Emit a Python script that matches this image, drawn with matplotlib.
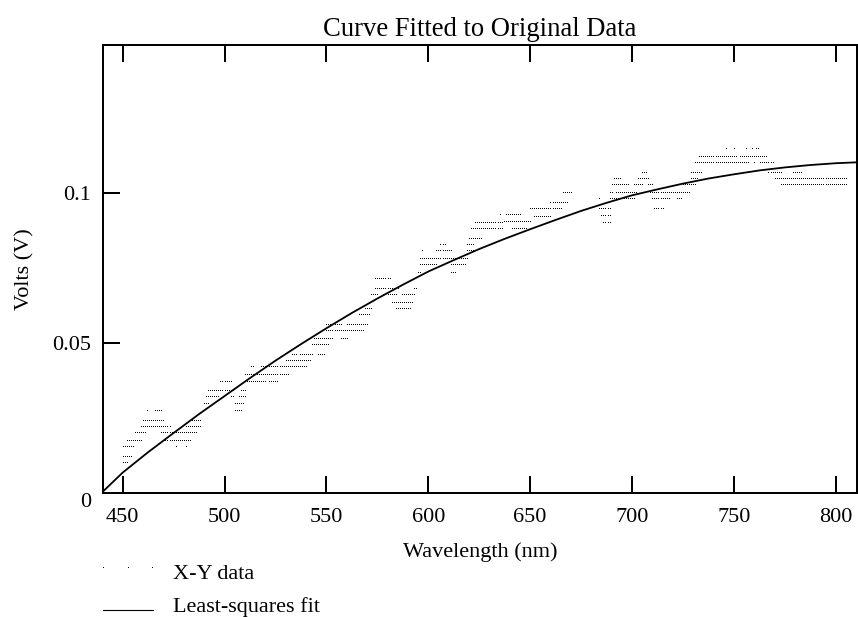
import matplotlib
matplotlib.use('Agg')
import matplotlib.pyplot as plt
import numpy as np
from matplotlib.lines import Line2D

# ---------------- data ----------------
# measured points: horizontal runs of samples at 1 nm spacing (level, first nm, last nm)
run_y = [
    0.0100, 0.0121, 0.0153, 0.0154, 0.0154, 0.0174, 0.0174, 0.0200, 0.0200,
    0.0220, 0.0220, 0.0220, 0.0241, 0.0241, 0.0274, 0.0274, 0.0274,
    0.0296, 0.0296, 0.0320, 0.0320, 0.0320, 0.0340, 0.0340,
    0.0372, 0.0372, 0.0372, 0.0394, 0.0421, 0.0421, 0.0441,
    0.0461, 0.0461, 0.0461, 0.0494, 0.0514, 0.0514, 0.0541, 0.0560, 0.0560,
    0.0594, 0.0614, 0.0614, 0.0633, 0.0661, 0.0661, 0.0661, 0.0681, 0.0681,
    0.0713, 0.0733, 0.0733, 0.0761, 0.0761, 0.0780, 0.0808, 0.0808, 0.0808,
    0.0828, 0.0828, 0.0848, 0.0880, 0.0900, 0.0928,
    # 636-684 region
    0.0928, 0.0905, 0.0880, 0.0947, 0.0967, 0.0920, 0.1000,
    # right part
    0.1147, 0.1147, 0.1147, 0.1147, 0.1147,
    0.1122, 0.1122, 0.1100, 0.1100, 0.1100,
    0.1067, 0.1067, 0.1067, 0.1067,
    0.1047, 0.1047, 0.1047, 0.1047,
    0.1027, 0.1027, 0.1027, 0.1027, 0.1027, 0.1027,
    0.1000, 0.1000, 0.1000,
    0.0980, 0.0980, 0.0980, 0.0980,
    0.0947, 0.0947, 0.0925, 0.0900,
]
run_x0 = [
    450, 450, 450, 476, 481, 452, 470, 456, 469,
    459, 470, 481, 460, 484, 462, 466, 505,
    490, 505, 491, 503, 507, 492, 508,
    498, 511, 522, 510, 513, 518, 530,
    533, 537, 546, 543, 544, 557, 550, 550, 560,
    566, 569, 584, 582, 572, 578, 587, 574, 593,
    574, 595, 611, 596, 611, 596, 597, 604, 619,
    606, 619, 620, 621, 623, 635,
    638, 637, 641, 650, 660, 652, 666,
    746, 750, 756, 759, 761,
    733, 753, 731, 760, 763,
    705, 729, 767, 779,
    691, 703, 729, 770,
    690, 701, 708, 725, 773, 782,
    689, 692, 709,
    684, 689, 710, 722,
    684, 711, 685, 686,
]
run_x1 = [
    452, 454, 455, 476, 481, 459, 483, 461, 486,
    469, 473, 488, 470, 488, 462, 469, 508,
    492, 509, 497, 504, 510, 504, 510,
    503, 520, 526, 531, 514, 540, 542,
    535, 543, 549, 551, 553, 560, 568, 557, 570,
    571, 572, 591, 592, 575, 584, 593, 585, 594,
    581, 596, 613, 604, 618, 619, 597, 611, 622,
    608, 622, 626, 636, 636, 635,
    645, 650, 648, 665, 668, 660, 670,
    746, 750, 756, 759, 762,
    751, 766, 757, 760, 769,
    707, 734, 773, 783,
    694, 708, 732, 805,
    698, 705, 710, 731, 781, 805,
    690, 702, 728,
    684, 701, 718, 724,
    689, 715, 689, 689,
]

# least-squares fit curve
fit_x = [440.5, 450, 462.5, 475, 487.5, 500, 512.5, 525, 537.5, 550, 562.5,
         575, 587.5, 600, 612.5, 625, 637.5, 650, 662.5, 675, 687.5, 700,
         712.5, 725, 737.5, 750, 762.5, 775, 787.5, 800, 810.3]
fit_y = [0.0007, 0.0069, 0.0137, 0.0201, 0.0264, 0.0324, 0.0384, 0.0442,
         0.0497, 0.0550, 0.0601, 0.0649, 0.0695, 0.0739, 0.0777, 0.0814,
         0.0848, 0.0880, 0.0911, 0.0941, 0.0968, 0.0993, 0.1013, 0.1032,
         0.1049, 0.1063, 0.1076, 0.1086, 0.1094, 0.1100, 0.1103]

x_ticks = [450, 500, 550, 600, 650, 700, 750, 800]
x_tick_labels = ['450', '500', '550', '600', '650', '700', '750', '800']
y_ticks = [0, 0.05, 0.1]
y_tick_labels = ['0', '0.05', '0.1']

# ---------------- figure ----------------
plt.rcParams['font.family'] = ['Liberation Serif', 'DejaVu Serif']
plt.rcParams['font.size'] = 16

W, H = 858, 617
fig = plt.figure(figsize=(W / 100, H / 100), dpi=100)
ax = fig.add_axes([103.3 / W, 1 - 493.3 / H, 753.4 / W, 448.3 / H])

xs = np.concatenate([np.arange(a, b + 1) for a, b in zip(run_x0, run_x1)])
ys = np.concatenate([np.full(b - a + 1, v) for v, a, b in zip(run_y, run_x0, run_x1)])

ax.plot(xs, ys, ls='none', marker=',', color='black')
ax.plot(fit_x, fit_y, color='black', lw=1.3)

ax.set_xlim(440.5, 810.3)
ax.set_ylim(0, 0.1494)
ax.set_xticks(x_ticks)
ax.set_xticklabels(x_tick_labels)
ax.set_yticks(y_ticks)
ax.set_yticklabels(y_tick_labels)

for s in ax.spines.values():
    s.set_linewidth(1.44)
ax.tick_params(direction='in', length=12.2, width=1.44, top=True, right=False)
ax.tick_params(axis='x', pad=10.5)
ax.tick_params(axis='y', pad=8.8)
ax.get_yticklabels()[0].set_va('top')

ax.set_title('Curve Fitted to Original Data', pad=6.8)
ax.set_xlabel('Wavelength (nm)', labelpad=11.3)
ax.set_ylabel('Volts (V)', labelpad=12.7)

# legend drawn below the axes
fig.add_artist(Line2D([103 / W, 128 / W, 152 / W], [1 - 567.7 / H] * 3, ls='none',
                      marker=',', color='black', transform=fig.transFigure))
fig.add_artist(Line2D([103 / W, 153 / W], [1 - 610 / H] * 2, color='black', lw=0.8,
                      transform=fig.transFigure))
fig.text(173.3 / W, 1 - 579 / H, 'X-Y data', va='baseline', ha='left')
fig.text(173.3 / W, 1 - 611.7 / H, 'Least-squares fit', va='baseline', ha='left')

fig.savefig('out.png', dpi=100)
